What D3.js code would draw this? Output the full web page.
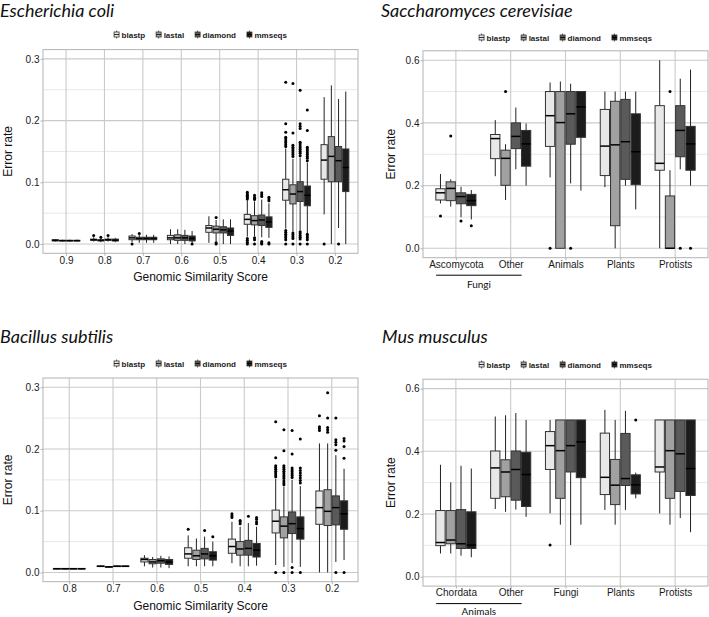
<!DOCTYPE html>
<html>
<head>
<meta charset="utf-8">
<script src="https://cdn.jsdelivr.net/npm/d3@7"></script>
<style>
  body { margin: 0; background: #fff; }
</style>
</head>
<body>
<div class="container"></div>
<script>
const methods = ["blastp", "lastal", "diamond", "mmseqs"];
const fills = ["#e8e8e8", "#a1a1a1", "#5a5a5a", "#1c1c1c"];

// rows: [category, method, lower whisker, q1, median, q3, upper whisker, outliers]
const ecoliScores = ["0.9", "0.8", "0.7", "0.6", "0.5", "0.4", "0.3", "0.2"];
const ecoliBoxes = [
  ["0.9", "blastp", 0.004, 0.005, 0.006, 0.007, 0.008, []],
  ["0.9", "lastal", 0.004, 0.005, 0.0055, 0.006, 0.007, []],
  ["0.9", "diamond", 0.004, 0.005, 0.0055, 0.006, 0.007, []],
  ["0.9", "mmseqs", 0.004, 0.005, 0.0055, 0.006, 0.007, []],
  ["0.8", "blastp", 0.004, 0.006, 0.007, 0.008, 0.011, [0.014]],
  ["0.8", "lastal", 0.003, 0.005, 0.006, 0.007, 0.010, [0.011]],
  ["0.8", "diamond", 0.004, 0.006, 0.007, 0.008, 0.011, [0.014]],
  ["0.8", "mmseqs", 0.003, 0.005, 0.006, 0.008, 0.010, []],
  ["0.7", "blastp", 0.003, 0.007, 0.010, 0.013, 0.016, [0]],
  ["0.7", "lastal", 0.002, 0.007, 0.009, 0.011, 0.015, [0.017]],
  ["0.7", "diamond", 0.002, 0.007, 0.009, 0.011, 0.015, []],
  ["0.7", "mmseqs", 0.002, 0.007, 0.009, 0.011, 0.015, []],
  ["0.6", "blastp", 0, 0.007, 0.010, 0.014, 0.024, []],
  ["0.6", "lastal", 0, 0.006, 0.010, 0.015, 0.024, []],
  ["0.6", "diamond", 0, 0.006, 0.010, 0.014, 0.023, []],
  ["0.6", "mmseqs", 0, 0.005, 0.009, 0.013, 0.021, [0]],
  ["0.5", "blastp", 0.002, 0.019, 0.026, 0.030, 0.045, []],
  ["0.5", "lastal", 0.004, 0.018, 0.024, 0.029, 0.039, [0.043, 0.002, 0]],
  ["0.5", "diamond", 0, 0.018, 0.023, 0.028, 0.040, []],
  ["0.5", "mmseqs", 0, 0.014, 0.021, 0.026, 0.040, []],
  ["0.4", "blastp", 0.012, 0.032, 0.040, 0.048, 0.071, [0.073, 0.075, 0.077, 0.079, 0.081, 0.084, 0.009, 0.006, 0.003, 0]],
  ["0.4", "lastal", 0.013, 0.031, 0.038, 0.046, 0.069, [0.072, 0.074, 0.076, 0.079, 0.010, 0.007, 0]],
  ["0.4", "diamond", 0.011, 0.030, 0.039, 0.047, 0.072, [0.077, 0.080, 0.083, 0.004, 0.002, 0]],
  ["0.4", "mmseqs", 0.010, 0.027, 0.036, 0.044, 0.066, [0.070, 0.073, 0.076, 0.002, 0]],
  ["0.3", "blastp", 0.025, 0.071, 0.088, 0.105, 0.155, [0.262, 0.195, 0.181, 0.173, 0.170, 0.167, 0.164, 0.161, 0.158, 0.022, 0.019, 0.016, 0.013, 0.010, 0.007, 0]],
  ["0.3", "lastal", 0.020, 0.065, 0.081, 0.096, 0.138, [0.260, 0.180, 0.160, 0.157, 0.154, 0.151, 0.148, 0.145, 0.142, 0.018, 0.015, 0.012, 0.009, 0]],
  ["0.3", "diamond", 0.022, 0.069, 0.085, 0.101, 0.140, [0.249, 0.195, 0.191, 0.187, 0.165, 0.162, 0.159, 0.156, 0.153, 0.150, 0.147, 0.143, 0.020, 0.017, 0.014, 0.011, 0.008, 0]],
  ["0.3", "mmseqs", 0.017, 0.062, 0.079, 0.094, 0.132, [0.217, 0.184, 0.157, 0.154, 0.151, 0.148, 0.145, 0.142, 0.139, 0.135, 0.016, 0.013, 0.010, 0.007, 0]],
  ["0.2", "blastp", 0.048, 0.105, 0.136, 0.161, 0.238, [0]],
  ["0.2", "lastal", 0, 0.101, 0.142, 0.174, 0.257, []],
  ["0.2", "diamond", 0.026, 0.101, 0.135, 0.158, 0.235, [0]],
  ["0.2", "mmseqs", 0, 0.085, 0.124, 0.154, 0.247, []]
];

const bsubScores = ["0.8", "0.7", "0.6", "0.5", "0.4", "0.3", "0.2"];
const bsubBoxes = [
  ["0.8", "blastp", 0.005, 0.0055, 0.006, 0.0065, 0.007, []],
  ["0.8", "lastal", 0.005, 0.0055, 0.006, 0.0065, 0.007, []],
  ["0.8", "diamond", 0.005, 0.0055, 0.006, 0.0065, 0.007, []],
  ["0.8", "mmseqs", 0.005, 0.0055, 0.006, 0.0065, 0.007, []],
  ["0.7", "blastp", 0.009, 0.0095, 0.010, 0.0105, 0.011, []],
  ["0.7", "lastal", 0.008, 0.0085, 0.009, 0.0095, 0.010, []],
  ["0.7", "diamond", 0.009, 0.0095, 0.010, 0.0105, 0.011, []],
  ["0.7", "mmseqs", 0.009, 0.0095, 0.010, 0.0105, 0.011, []],
  ["0.6", "blastp", 0.010, 0.017, 0.021, 0.023, 0.028, []],
  ["0.6", "lastal", 0.008, 0.014, 0.017, 0.021, 0.025, []],
  ["0.6", "diamond", 0.008, 0.015, 0.019, 0.022, 0.027, []],
  ["0.6", "mmseqs", 0.007, 0.013, 0.017, 0.021, 0.026, []],
  ["0.5", "blastp", 0.010, 0.023, 0.030, 0.040, 0.060, [0.070]],
  ["0.5", "lastal", 0.010, 0.021, 0.027, 0.036, 0.055, []],
  ["0.5", "diamond", 0.010, 0.022, 0.030, 0.039, 0.058, [0.068]],
  ["0.5", "mmseqs", 0.010, 0.020, 0.027, 0.0335, 0.050, [0.058]],
  ["0.4", "blastp", 0.015, 0.031, 0.042, 0.054, 0.082, [0.089, 0.092, 0.095]],
  ["0.4", "lastal", 0.010, 0.028, 0.038, 0.050, 0.074, [0.079, 0.082, 0.084]],
  ["0.4", "diamond", 0.010, 0.028, 0.039, 0.052, 0.080, [0.091]],
  ["0.4", "mmseqs", 0.011, 0.025, 0.036, 0.047, 0.074, [0.079, 0.082, 0.086, 0.089]],
  ["0.3", "blastp", 0.012, 0.064, 0.083, 0.101, 0.152, [0.244, 0.186, 0.173, 0.170, 0.167, 0.164, 0.161, 0.158, 0.155, 0]],
  ["0.3", "lastal", 0.009, 0.056, 0.075, 0.090, 0.139, [0.231, 0.197, 0.173, 0.170, 0.167, 0.164, 0.161, 0.158, 0.155, 0.152, 0.148, 0.145, 0.142, 0]],
  ["0.3", "diamond", 0.015, 0.063, 0.079, 0.098, 0.150, [0.230, 0.192, 0.169, 0.166, 0.163, 0.160, 0.157, 0.154, 0.008, 0]],
  ["0.3", "mmseqs", 0.009, 0.054, 0.071, 0.090, 0.140, [0.216, 0.169, 0.165, 0.161, 0.157, 0.153, 0.149, 0.145, 0]],
  ["0.2", "blastp", 0, 0.078, 0.105, 0.132, 0.209, [0.254, 0.236, 0.233, 0.230]],
  ["0.2", "lastal", 0, 0.076, 0.099, 0.134, 0.209, [0.291, 0.250, 0.235, 0.231, 0.227]],
  ["0.2", "diamond", 0.017, 0.077, 0.105, 0.124, 0.190, [0.250, 0.215, 0.211, 0.207, 0.198, 0]],
  ["0.2", "mmseqs", 0.020, 0.070, 0.095, 0.116, 0.168, [0.217, 0.213, 0.204, 0.185, 0]]
];

const yeastGroups = ["Ascomycota", "Other", "Animals", "Plants", "Protists"];
const yeastBoxes = [
  ["Ascomycota", "blastp", 0.143, 0.154, 0.177, 0.190, 0.237, [0.103]],
  ["Ascomycota", "lastal", 0.133, 0.152, 0.191, 0.212, 0.220, [0.358]],
  ["Ascomycota", "diamond", 0.099, 0.142, 0.165, 0.177, 0.196, [0.087]],
  ["Ascomycota", "mmseqs", 0.092, 0.136, 0.152, 0.172, 0.186, [0.072]],
  ["Other", "blastp", 0.230, 0.286, 0.350, 0.363, 0.409, []],
  ["Other", "lastal", 0.154, 0.201, 0.287, 0.313, 0.332, [0.5]],
  ["Other", "diamond", 0.252, 0.318, 0.357, 0.400, 0.449, []],
  ["Other", "mmseqs", 0.200, 0.262, 0.333, 0.376, 0.398, []],
  ["Animals", "blastp", 0.226, 0.325, 0.423, 0.5, 0.529, [0]],
  ["Animals", "lastal", 0, 0, 0.401, 0.5, 0.532, []],
  ["Animals", "diamond", 0.207, 0.332, 0.429, 0.5, 0.525, [0]],
  ["Animals", "mmseqs", 0.184, 0.354, 0.451, 0.5, 0.5, []],
  ["Plants", "blastp", 0.195, 0.232, 0.326, 0.443, 0.5, []],
  ["Plants", "lastal", 0, 0.072, 0.330, 0.469, 0.5, []],
  ["Plants", "diamond", 0.200, 0.220, 0.340, 0.475, 0.5, []],
  ["Plants", "mmseqs", 0.124, 0.203, 0.308, 0.429, 0.5, []],
  ["Protists", "blastp", 0, 0.249, 0.271, 0.455, 0.600, []],
  ["Protists", "lastal", 0, 0, 0, 0.167, 0.249, [0.5]],
  ["Protists", "diamond", 0.252, 0.292, 0.376, 0.455, 0.541, [0]],
  ["Protists", "mmseqs", 0.200, 0.249, 0.333, 0.389, 0.570, [0]]
];

const mouseGroups = ["Chordata", "Other", "Fungi", "Plants", "Protists"];
const mouseBoxes = [
  ["Chordata", "blastp", 0.074, 0.099, 0.109, 0.211, 0.357, []],
  ["Chordata", "lastal", 0.074, 0.105, 0.117, 0.211, 0.301, []],
  ["Chordata", "diamond", 0.067, 0.090, 0.105, 0.214, 0.354, []],
  ["Chordata", "mmseqs", 0.062, 0.090, 0.101, 0.207, 0.345, []],
  ["Other", "blastp", 0.216, 0.250, 0.347, 0.401, 0.511, []],
  ["Other", "lastal", 0.207, 0.255, 0.334, 0.373, 0.515, []],
  ["Other", "diamond", 0.214, 0.244, 0.342, 0.401, 0.522, []],
  ["Other", "mmseqs", 0.191, 0.224, 0.326, 0.397, 0.5, []],
  ["Fungi", "blastp", 0.202, 0.342, 0.418, 0.463, 0.5, [0.101]],
  ["Fungi", "lastal", 0.166, 0.250, 0.402, 0.5, 0.5, []],
  ["Fungi", "diamond", 0.101, 0.334, 0.418, 0.5, 0.5, []],
  ["Fungi", "mmseqs", 0.166, 0.316, 0.430, 0.5, 0.5, []],
  ["Plants", "blastp", 0.213, 0.262, 0.317, 0.458, 0.532, []],
  ["Plants", "lastal", 0.166, 0.230, 0.292, 0.374, 0.5, []],
  ["Plants", "diamond", 0.213, 0.291, 0.313, 0.457, 0.529, []],
  ["Plants", "mmseqs", 0.250, 0.264, 0.293, 0.325, 0.332, [0.5]],
  ["Protists", "blastp", 0.202, 0.334, 0.350, 0.5, 0.5, []],
  ["Protists", "lastal", 0.166, 0.250, 0.402, 0.5, 0.5, []],
  ["Protists", "diamond", 0.187, 0.272, 0.392, 0.5, 0.5, []],
  ["Protists", "mmseqs", 0.142, 0.259, 0.345, 0.5, 0.5, []]
];

const svg = d3.select(".container")
  .append("svg")
  .attr("width", 709)
  .attr("height", 617)
  .style("font-family", "'Liberation Sans', Arial, sans-serif");

function panel(cfg) {
  const g = svg.append("g");
  const x = d3.scalePoint().domain(cfg.cats).range([cfg.left, cfg.right]).padding(0.6);
  const y = d3.scaleLinear().domain(cfg.domain).range([cfg.bottom, cfg.top]);
  const step = x.step();
  const bw = step * 0.75 / 4;
  const color = d3.scaleOrdinal().domain(methods).range(fills);

  // title
  svg.append("text")
    .attr("x", cfg.titleX).attr("y", cfg.titleY)
    .attr("font-family", "Lato, 'Open Sans', sans-serif")
    .attr("font-style", "italic")
    .attr("font-size", 18)
    .attr("fill", "#111")
    .text(cfg.title);

  // grid
  g.append("g").selectAll("line")
    .data(cfg.minor)
    .join("line")
    .attr("x1", cfg.left).attr("x2", cfg.right)
    .attr("y1", d => y(d)).attr("y2", d => y(d))
    .attr("stroke", "#d6d6d6").attr("stroke-width", 0.6);
  g.append("g").selectAll("line")
    .data(cfg.ticks)
    .join("line")
    .attr("x1", cfg.left).attr("x2", cfg.right)
    .attr("y1", d => y(d)).attr("y2", d => y(d))
    .attr("stroke", "#cacaca").attr("stroke-width", 1.1);
  g.append("g").selectAll("line")
    .data(cfg.cats)
    .join("line")
    .attr("x1", d => x(d)).attr("x2", d => x(d))
    .attr("y1", cfg.top).attr("y2", cfg.bottom)
    .attr("stroke", "#cacaca").attr("stroke-width", 1.1);

  // boxes
  const boxes = g.append("g").selectAll("g")
    .data(cfg.rows)
    .join("g")
    .attr("transform", d => `translate(${x(d[0]) + (methods.indexOf(d[1]) - 1.5) * bw},0)`);

  boxes.append("line")
    .attr("y1", d => y(d[2])).attr("y2", d => y(d[6]))
    .attr("stroke", "#222").attr("stroke-width", 1);
  boxes.append("rect")
    .attr("x", -bw / 2 + 0.5).attr("width", bw - 1)
    .attr("y", d => y(d[5]))
    .attr("height", d => Math.max(0.5, y(d[3]) - y(d[5])))
    .attr("fill", d => color(d[1]))
    .attr("stroke", "#333").attr("stroke-width", 1);
  boxes.append("line")
    .attr("x1", -bw / 2 + 0.5).attr("x2", bw / 2 - 0.5)
    .attr("y1", d => y(d[4])).attr("y2", d => y(d[4]))
    .attr("stroke", "#000").attr("stroke-width", 1.5);
  boxes.selectAll("circle")
    .data(d => d[7])
    .join("circle")
    .attr("cy", d => y(d))
    .attr("r", 1.5)
    .attr("fill", "#000");

  // border
  g.append("rect")
    .attr("x", cfg.left).attr("y", cfg.top)
    .attr("width", cfg.right - cfg.left).attr("height", cfg.bottom - cfg.top)
    .attr("fill", "none").attr("stroke", "#b3b3b3").attr("stroke-width", 1);

  // axes
  const ya = g.append("g")
    .attr("transform", `translate(${cfg.left},0)`)
    .call(d3.axisLeft(y).tickValues(cfg.ticks).tickSize(2.5).tickPadding(1).tickFormat(d3.format(".1f")));
  const xa = g.append("g")
    .attr("transform", `translate(0,${cfg.bottom})`)
    .call(d3.axisBottom(x).tickSize(2.5).tickPadding(0.8));
  [ya, xa].forEach(a => {
    a.select(".domain").remove();
    a.selectAll(".tick line").attr("stroke", "#b3b3b3");
    a.selectAll(".tick text").attr("fill", "#1a1a1a").attr("font-size", 10)
      .attr("font-family", "'Liberation Sans', Arial, sans-serif");
  });

  // axis titles
  g.append("text")
    .attr("transform", `translate(${cfg.yTitleX},${(cfg.top + cfg.bottom) / 2}) rotate(-90)`)
    .attr("text-anchor", "middle")
    .attr("font-size", 12)
    .attr("fill", "#111")
    .text("Error rate");
  if (cfg.xTitle) {
    g.append("text")
      .attr("x", (cfg.left + cfg.right) / 2).attr("y", cfg.bottom + 28)
      .attr("text-anchor", "middle")
      .attr("font-size", 12)
      .attr("fill", "#111")
      .text(cfg.xTitle);
  }
  if (cfg.bracket) {
    const bx1 = x(cfg.cats[0]) - 0.36 * step;
    const bx2 = x(cfg.cats[1]) + 0.2 * step;
    const by = cfg.bottom + 17.5;
    g.append("line")
      .attr("x1", bx1).attr("x2", bx2).attr("y1", by).attr("y2", by)
      .attr("stroke", "#000").attr("stroke-width", 1);
    g.append("text")
      .attr("x", (bx1 + bx2) / 2).attr("y", Math.min(by + 13, 615))
      .attr("text-anchor", "middle")
      .attr("font-family", "Lato, 'Open Sans', sans-serif")
      .attr("font-size", 10)
      .attr("fill", "#111")
      .text(cfg.bracket);
  }

  // legend
  const lg = g.append("g");
  let cx = 0;
  methods.forEach((m, i) => {
    const item = lg.append("g").attr("transform", `translate(${cx},0)`);
    item.append("line").attr("x1", 2.5).attr("x2", 2.5).attr("y1", -4).attr("y2", 4)
      .attr("stroke", "#333").attr("stroke-width", 0.8);
    item.append("rect").attr("x", 0).attr("y", -2.5).attr("width", 5).attr("height", 5)
      .attr("fill", fills[i]).attr("stroke", "#333").attr("stroke-width", 0.8);
    item.append("line").attr("x1", 0).attr("x2", 5).attr("y1", 0).attr("y2", 0)
      .attr("stroke", "#000").attr("stroke-width", 0.8);
    const t = item.append("text")
      .attr("x", 7.5).attr("y", 3)
      .attr("font-size", 8).attr("font-weight", "bold")
      .attr("fill", "#222")
      .text(m);
    cx += 7.5 + t.node().getComputedTextLength() + 11;
  });
  cx -= 11;
  lg.attr("transform", `translate(${(cfg.left + cfg.right) / 2 - cx / 2},${cfg.legendY})`);
}

panel({
  cats: ecoliScores, rows: ecoliBoxes,
  left: 43, right: 358, top: 49.6, bottom: 253.3,
  domain: [-0.015, 0.315], ticks: [0, 0.1, 0.2, 0.3], minor: [0.05, 0.15, 0.25],
  title: "Escherichia coli", titleX: 0, titleY: 17,
  legendY: 34.5, yTitleX: 11.5, xTitle: "Genomic Similarity Score"
});
panel({
  cats: yeastGroups, rows: yeastBoxes,
  left: 423, right: 708, top: 50.8, bottom: 257.7,
  domain: [-0.03, 0.63], ticks: [0, 0.2, 0.4, 0.6], minor: [0.1, 0.3, 0.5],
  title: "Saccharomyces cerevisiae", titleX: 381, titleY: 17,
  legendY: 37.5, yTitleX: 395, bracket: "Fungi"
});
panel({
  cats: bsubScores, rows: bsubBoxes,
  left: 43, right: 358, top: 378, bottom: 581.7,
  domain: [-0.015, 0.315], ticks: [0, 0.1, 0.2, 0.3], minor: [0.05, 0.15, 0.25],
  title: "Bacillus subtilis", titleX: 0, titleY: 343,
  legendY: 363.5, yTitleX: 11.5, xTitle: "Genomic Similarity Score"
});
panel({
  cats: mouseGroups, rows: mouseBoxes,
  left: 423, right: 708, top: 379.2, bottom: 586.1,
  domain: [-0.03, 0.63], ticks: [0, 0.2, 0.4, 0.6], minor: [0.1, 0.3, 0.5],
  title: "Mus musculus", titleX: 382, titleY: 343,
  legendY: 364.5, yTitleX: 395, bracket: "Animals"
});
</script>
</body>
</html>
